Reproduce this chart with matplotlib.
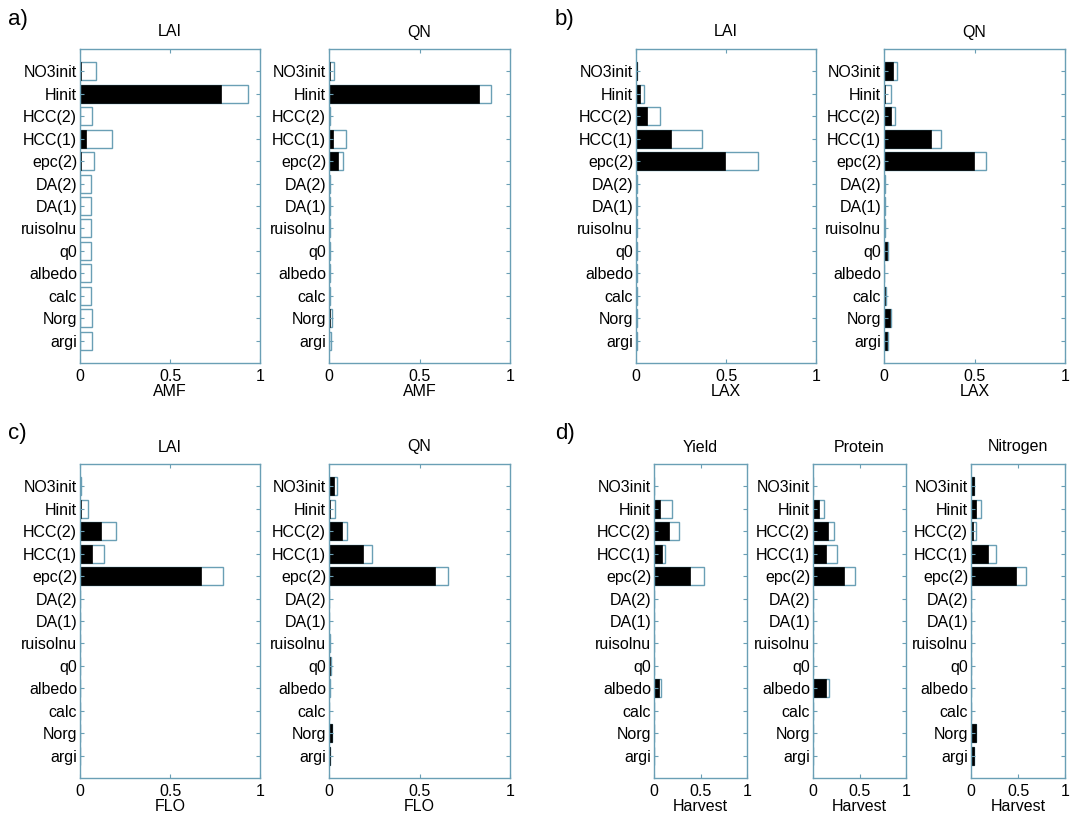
import matplotlib
matplotlib.use("Agg")
import matplotlib.pyplot as plt

plt.rcParams['font.family'] = ['Liberation Sans', 'DejaVu Sans']

# parameter names, top to bottom
params = ['NO3init', 'Hinit', 'HCC(2)', 'HCC(1)', 'epc(2)', 'DA(2)', 'DA(1)',
          'ruisolnu', 'q0', 'albedo', 'calc', 'Norg', 'argi']

# a) AMF  (first-order = black, total = white)
a_lai_first = [0.005, 0.783, 0.002, 0.033, 0.005, 0.0, 0.0, 0.0, 0.0, 0.0, 0.0, 0.0, 0.0]
a_lai_total = [0.087, 0.935, 0.065, 0.180, 0.080, 0.063, 0.063, 0.063, 0.063, 0.063, 0.063, 0.065, 0.067]
a_qn_first = [0.004, 0.829, 0.002, 0.024, 0.052, 0.001, 0.001, 0.001, 0.001, 0.001, 0.001, 0.003, 0.002]
a_qn_total = [0.026, 0.893, 0.006, 0.094, 0.079, 0.004, 0.003, 0.004, 0.004, 0.003, 0.003, 0.016, 0.013]

# b) LAX
b_lai_first = [0.004, 0.020, 0.059, 0.196, 0.494, 0.002, 0.002, 0.001, 0.001, 0.001, 0.001, 0.001, 0.001]
b_lai_total = [0.008, 0.044, 0.133, 0.365, 0.678, 0.006, 0.006, 0.004, 0.004, 0.003, 0.003, 0.004, 0.004]
b_qn_first = [0.051, 0.003, 0.037, 0.259, 0.496, 0.002, 0.001, 0.001, 0.018, 0.001, 0.003, 0.033, 0.017]
b_qn_total = [0.074, 0.040, 0.061, 0.316, 0.566, 0.004, 0.003, 0.003, 0.020, 0.002, 0.010, 0.037, 0.020]

# c) FLO
c_lai_first = [0.001, 0.005, 0.119, 0.067, 0.674, 0.001, 0.001, 0.001, 0.001, 0.001, 0.001, 0.001, 0.001]
c_lai_total = [0.003, 0.044, 0.198, 0.135, 0.794, 0.002, 0.002, 0.002, 0.002, 0.002, 0.002, 0.002, 0.002]
c_qn_first = [0.029, 0.003, 0.070, 0.186, 0.586, 0.001, 0.001, 0.001, 0.008, 0.001, 0.001, 0.015, 0.003]
c_qn_total = [0.044, 0.035, 0.098, 0.239, 0.659, 0.002, 0.002, 0.003, 0.010, 0.003, 0.002, 0.017, 0.005]

# d) Harvest
d_yield_first = [0.001, 0.065, 0.161, 0.090, 0.390, 0.002, 0.002, 0.001, 0.001, 0.054, 0.001, 0.001, 0.001]
d_yield_total = [0.002, 0.190, 0.272, 0.118, 0.534, 0.004, 0.005, 0.002, 0.002, 0.079, 0.002, 0.002, 0.002]
d_prot_first = [0.002, 0.064, 0.164, 0.139, 0.329, 0.002, 0.002, 0.001, 0.001, 0.143, 0.002, 0.002, 0.002]
d_prot_total = [0.004, 0.114, 0.221, 0.261, 0.454, 0.005, 0.005, 0.002, 0.002, 0.171, 0.004, 0.004, 0.004]
d_nit_first = [0.028, 0.053, 0.018, 0.184, 0.482, 0.002, 0.002, 0.001, 0.001, 0.001, 0.003, 0.050, 0.028]
d_nit_total = [0.030, 0.110, 0.053, 0.270, 0.585, 0.004, 0.004, 0.002, 0.002, 0.002, 0.005, 0.052, 0.030]

EDGE = '#6a9fb5'
W, H = 1091, 818
FS = 11.5

fig = plt.figure(figsize=(W / 100, H / 100), dpi=100)


def panel(x0, x1, y0, y1, first, total, title, xlabel):
    ax = fig.add_axes([x0 / W, 1 - y1 / H, (x1 - x0) / W, (y1 - y0) / H])
    ypos = list(range(1, len(params) + 1))
    ax.barh(ypos, total, height=0.8, color='white', edgecolor=EDGE, linewidth=1.0)
    ax.barh(ypos, first, height=0.8, color='black', edgecolor='black', linewidth=0.5)
    ax.set_xlim(0, 1)
    ax.set_ylim(14, 0)
    ax.set_yticks(ypos)
    ax.set_yticklabels(params, fontsize=FS)
    ax.set_xticks([0, 0.5, 1])
    ax.set_xticklabels(['0', '0.5', '1'], fontsize=FS)
    ax.tick_params(direction='in', length=3, color=EDGE, top=True, right=True,
                   width=0.8)
    ax.tick_params(axis='y', pad=2)
    ax.tick_params(axis='x', pad=4)
    for s in ax.spines.values():
        s.set_color(EDGE)
        s.set_linewidth(1.0)
    ax.set_title(title, fontsize=FS, pad=9)
    ax.set_xlabel(xlabel, fontsize=FS, labelpad=0)
    return ax


# top row
panel(80, 260, 49, 363, a_lai_first, a_lai_total, 'LAI', 'AMF')
panel(329, 510, 49, 363, a_qn_first, a_qn_total, 'QN', 'AMF')
panel(636, 816, 49, 363, b_lai_first, b_lai_total, 'LAI', 'LAX')
panel(884, 1065, 49, 363, b_qn_first, b_qn_total, 'QN', 'LAX')

# bottom row
panel(80, 260, 464, 778, c_lai_first, c_lai_total, 'LAI', 'FLO')
panel(329, 510, 464, 778, c_qn_first, c_qn_total, 'QN', 'FLO')
panel(654, 747, 464, 778, d_yield_first, d_yield_total, 'Yield', 'Harvest')
panel(813, 906, 464, 778, d_prot_first, d_prot_total, 'Protein', 'Harvest')
panel(971, 1065, 464, 778, d_nit_first, d_nit_total, 'Nitrogen', 'Harvest')

# panel letters
for lab, x, y in [('a)', 8, 20), ('b)', 555, 20), ('c)', 8, 433), ('d)', 555, 433)]:
    fig.text(x / W, 1 - y / H, lab, fontsize=16, ha='left', va='center')

fig.savefig('out.png', dpi=100)
